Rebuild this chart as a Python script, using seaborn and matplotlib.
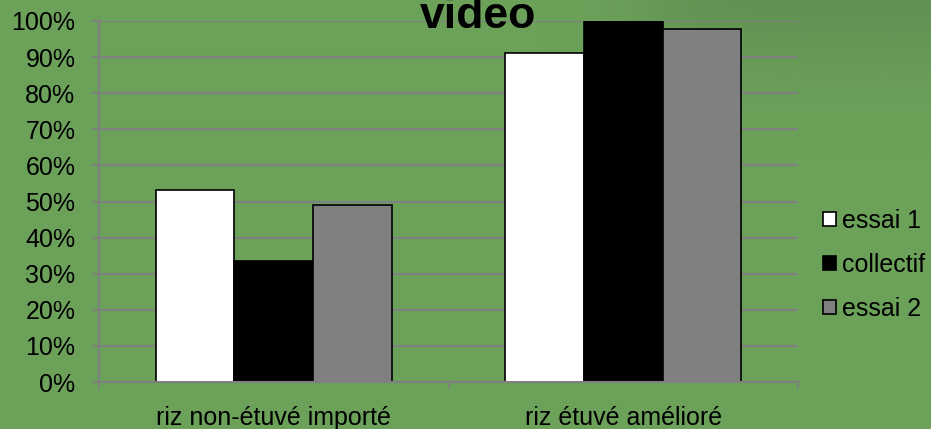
import numpy as np
import pandas as pd
import matplotlib.pyplot as plt
import seaborn as sns
from matplotlib.patches import Patch
from matplotlib.ticker import MultipleLocator, PercentFormatter

# Données
produits = ['riz non-étuvé importé', 'riz étuvé amélioré']
essais = ['essai 1', 'collectif', 'essai 2']
essai_1 = [53.3, 91.0]
collectif = [33.6, 100.0]
essai_2 = [49.0, 97.7]
couleurs = ['#ffffff', '#000000', '#808080']
titre = 'video'

df = pd.DataFrame({
    'produit': produits * 3,
    'essai': [e for e in essais for _ in produits],
    'valeur': essai_1 + collectif + essai_2,
})

fond = '#6ca15a'
gris = '#808080'

sns.set_theme(style='white')
plt.rcParams['font.family'] = ['Liberation Sans', 'DejaVu Sans']

fig = plt.figure(figsize=(9.31, 4.29), dpi=100, facecolor=fond)

# ombre douce de la photo de fond (en haut à droite)
bg = fig.add_axes([0, 0, 1, 1], zorder=-5)
bg.axis('off')
xx, yy = np.meshgrid(np.linspace(0, 931, 300), np.linspace(0, 429, 150))
masque = 1 / (1 + np.exp(-(xx - 650) / 25)) * np.exp(-((yy / 70) ** 2))
ombre = np.zeros(xx.shape + (4,))
ombre[..., :3] = np.array([0x55, 0x82, 0x4a]) / 255
ombre[..., 3] = 0.45 * masque
bg.imshow(ombre, extent=(0, 931, 429, 0), aspect='auto', interpolation='bilinear')
bg.set_xlim(0, 931)
bg.set_ylim(429, 0)

ax = fig.add_axes([99 / 931, 1 - 382 / 429, (798 - 99) / 931, (382 - 21) / 429])
ax.patch.set_alpha(0)

sns.barplot(data=df, x='produit', y='valeur', hue='essai', palette=couleurs,
            width=0.675, gap=0, edgecolor='black', linewidth=1.2,
            legend=False, ax=ax, zorder=3)

ax.set_ylim(0, 100)
ax.set_xlim(-0.5, 1.5)
ax.yaxis.set_major_locator(MultipleLocator(10))
ax.yaxis.set_major_formatter(PercentFormatter(decimals=0))
ax.grid(axis='y', color=gris, linewidth=1.5, zorder=0)
ax.grid(axis='x', visible=False)
ax.set_axisbelow(True)

for s in ['top', 'right']:
    ax.spines[s].set_visible(False)
for s in ['left', 'bottom']:
    ax.spines[s].set_color(gris)
    ax.spines[s].set_linewidth(1.5)
    ax.spines[s].set_zorder(4)

ax.tick_params(axis='y', length=5, width=1.2, color=gris, pad=12,
               labelsize=18, labelcolor='black', left=True)
ax.set_xticks([-0.5, 0.5, 1.5], minor=True)
ax.tick_params(axis='x', which='minor', length=5, width=1.2, color=gris, bottom=True)
ax.tick_params(axis='x', which='major', length=0, pad=17, labelsize=18, labelcolor='black')
ax.set_xlabel('')
ax.set_ylabel('')

fig.text(478 / 931, 1 - 28 / 429, titre, ha='center', va='baseline',
         fontsize=32, fontweight='bold', color='black')

handles = [Patch(facecolor=c, edgecolor='black', linewidth=1.2) for c in couleurs]
fig.legend(handles, essais, loc='center left', bbox_to_anchor=(823 / 931, 1 - 265 / 429),
           bbox_transform=fig.transFigure, frameon=False, fontsize=18,
           handlelength=0.5, handleheight=0.5, handletextpad=0.25,
           labelspacing=0.8, borderpad=0, borderaxespad=0, labelcolor='black')

fig.savefig('out.png', dpi=100, facecolor=fond)
